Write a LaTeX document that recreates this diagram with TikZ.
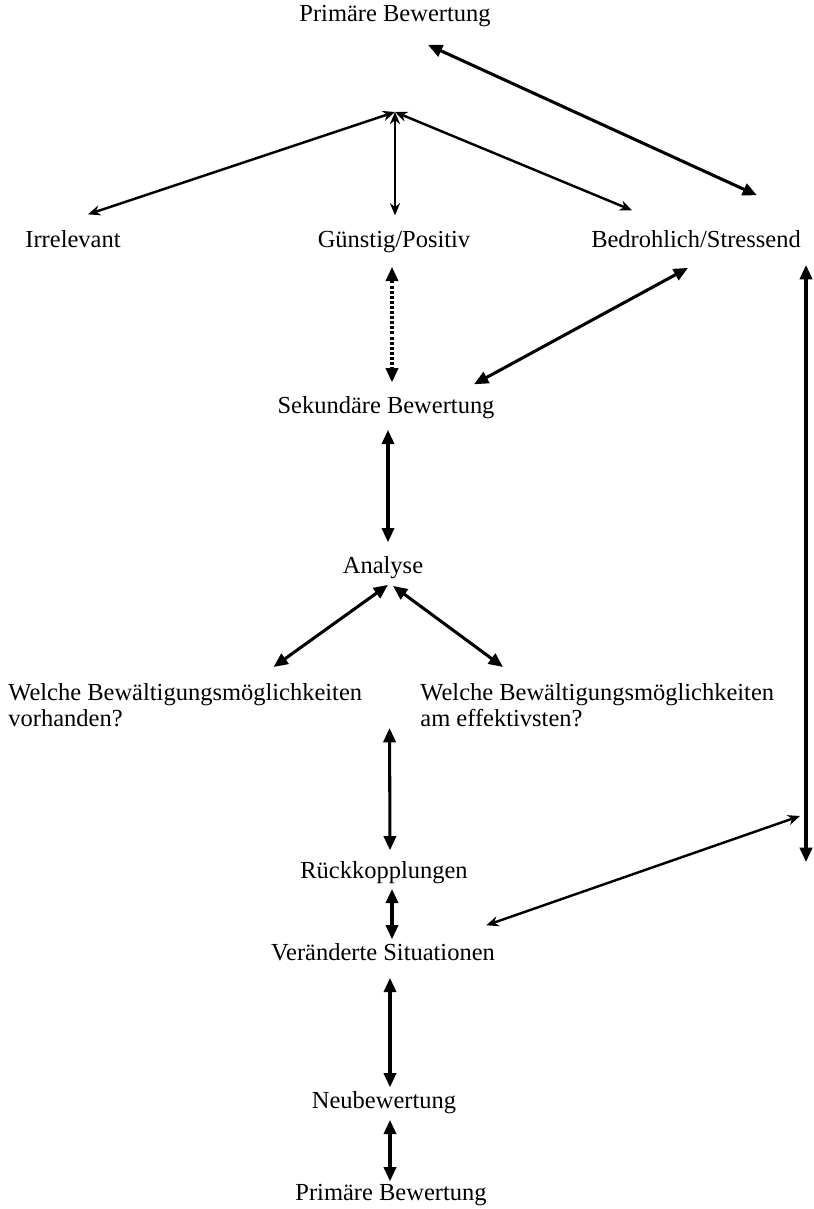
\documentclass[tikz,border=0pt]{standalone}
\usepackage{fontspec}
\setmainfont{Liberation Serif}
\usetikzlibrary{arrows.meta,calc}

\begin{document}
\begin{tikzpicture}[x=0.49pt,y=-0.49pt,
    every node/.style={font=\fontsize{12}{13}\selectfont,inner sep=0pt},
    lbl/.style={anchor=base,text height=0.7em,text depth=0.22em},
    link/.style={line width=1.5pt,{Triangle[length=7pt,width=6pt]}-{Triangle[length=7pt,width=6pt]}},
    slimlink/.style={line width=1.2pt,{Stealth[length=6pt,width=5pt]}-{Stealth[length=6pt,width=5pt]}}]
    \useasboundingbox (0,0) rectangle (813,1209);
    % labels
    \node[lbl] (pbtop) at (395,22) {Primäre Bewertung};
    \node[lbl] (irr) at (73,248) {Irrelevant};
    \node[lbl] (gue) at (394,248) {Günstig/Positiv};
    \node[lbl] (bed) at (696,248) {Bedrohlich/Stressend};
    \node[lbl] (sek) at (386,413) {Sekundäre Bewertung};
    \node[lbl] (ana) at (383,573) {Analyse};
    \node[anchor=north west,align=left] (wl) at (8,683)
        {Welche Bewältigungsmöglichkeiten\\vorhanden?};
    \node[anchor=north west,align=left] (wr) at (420,683)
        {Welche Bewältigungsmöglichkeiten\\am effektivsten?};
    \node[lbl] (rue) at (384,878) {Rückkopplungen};
    \node[lbl] (ver) at (383,960) {Veränderte Situationen};
    \node[lbl] (neu) at (384,1108) {Neubewertung};
    \node[lbl] (pbbot) at (391,1200) {Primäre Bewertung};
    % meeting point and side bar
    \coordinate (hub) at (395,112);
    \coordinate (bartop) at (806,265);
    \coordinate (barbot) at (806,862);
    \coordinate (barin) at (800,816);
    % primary appraisal
    \draw[slimlink] (hub) -- ($(irr.north)+(15,-19)$);
    \draw[slimlink,line width=0.9pt] (hub) -- ($(gue.north)+(1,-18)$);
    \draw[slimlink] (hub) -- ($(bed.north)+(-64,-23)$);
    \draw[link] ($(pbtop.south)+(33,18)$) -- ($(bed.north)+(61,-38)$);
    % secondary appraisal
    \draw[link,dash pattern=on 1.5pt off 1pt] ($(gue.south)+(-2,14)$) -- ($(sek.north)+(6,-16)$);
    \draw[link] ($(bed.south)+(-8,15)$) -- ($(sek.north)+(88,-14)$);
    \draw[link] ($(sek.south)+(2,12)$) -- ($(ana.north)+(5,-16)$);
    \draw[link] ($(ana.south)+(5,7)$) -- ($(wl.north east)+(-89,-16)$);
    \draw[link] ($(ana.south)+(10,8)$) -- ($(wr.north west)+(83,-16)$);
    \draw[link] ($(wl.north east)+(27,45)$) -- ($(rue.north)+(6,-13)$);
    % feedback
    \draw[link] ($(rue.south)+(8,6)$) -- ($(ver.north)+(9,-6)$);
    \draw[link] (bartop) -- (barbot);
    \draw[slimlink] ($(ver.north east)+(-9,-20)$) -- (barin);
    \draw[link] ($(ver.south)+(7,13)$) -- ($(neu.north)+(6,-6)$);
    \draw[link] ($(neu.south)+(6,7)$) -- ($(pbbot.north)+(-1,-4)$);
\end{tikzpicture}
\end{document}
